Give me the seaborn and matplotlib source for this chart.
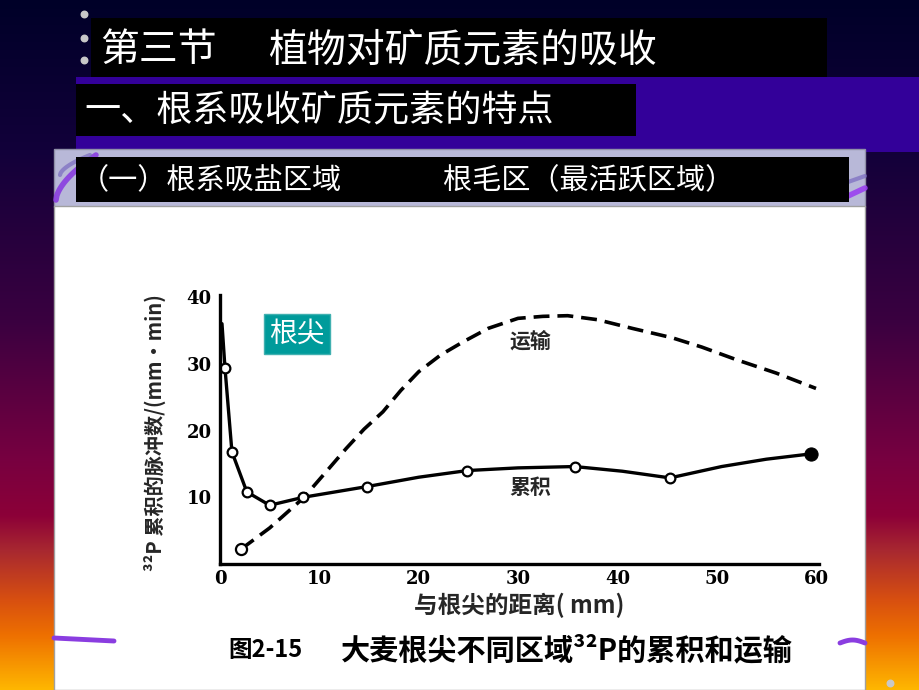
import numpy as np
import pandas as pd
import matplotlib
matplotlib.use("Agg")
import matplotlib.pyplot as plt
import seaborn as sns
from matplotlib.patches import Rectangle

# ---------------- data ----------------
accum_x = [0.2, 0.5, 1.2, 2.7, 5.0, 8.4, 14.8, 20.0, 24.9, 30.0, 35.7, 40.5, 45.3, 50.5, 55.0, 59.5]
accum_y = [36.0, 29.4, 16.8, 10.8, 8.8, 10.0, 11.6, 13.0, 14.0, 14.4, 14.6, 13.9, 12.9, 14.6, 15.7, 16.5]
accum_marked = [1, 2, 3, 4, 5, 6, 8, 10, 12]
trans_x = [2.1, 5.0, 8.4, 10.5, 12.7, 14.5, 16.4, 18.2, 20.0, 22.2, 24.5, 27.0, 30.0,
           32.5, 35.0, 38.0, 41.5, 45.5, 48.5, 52.0, 56.0, 60.0]
trans_y = [2.2, 5.4, 9.9, 13.5, 17.3, 20.2, 22.8, 26.0, 28.8, 31.3, 33.3, 35.3, 36.8,
           37.1, 37.2, 36.6, 35.3, 33.9, 32.5, 30.6, 28.6, 26.3]
x_ticks = [0, 10, 20, 30, 40, 50, 60]
y_ticks = [10, 20, 30, 40]

title_a = "第三节"
title_b = "植物对矿质元素的吸收"
subtitle = "一、根系吸收矿质元素的特点"
line3_a = "（一）根系吸盐区域"
line3_b = "根毛区（最活跃区域）"
tag_text = "根尖"
label_trans = "运输"
label_accum = "累积"
x_label = "与根尖的距离( mm)"
y_label = "³²P 累积的脉冲数/(mm·min)"
caption_a = "图2-15"
caption_b = "大麦根尖不同区域³²P的累积和运输"

accum_df = pd.DataFrame({"x": accum_x, "y": accum_y})
trans_df = pd.DataFrame({"x": trans_x, "y": trans_y})

# ---------------- style ----------------
sns.set_theme(style="white")
plt.rcParams['font.family'] = ['Noto Sans CJK SC', 'DejaVu Sans']
CJK = ['Noto Sans CJK SC', 'DejaVu Sans']

W, H = 920, 690
fig = plt.figure(figsize=(W / 100, H / 100), dpi=100)

# background axes in pixel coordinates
bg = fig.add_axes([0, 0, 1, 1], zorder=0)
bg.set_xlim(0, W)
bg.set_ylim(H, 0)
bg.axis("off")

stops_y = [0, 150, 320, 460, 515, 550, 600, 635, 690]
stops_c = ["#000028", "#12003a", "#3a0040", "#780040", "#8c0038",
           "#a82830", "#d85010", "#ee7000", "#ffb800"]
rgb = np.array([matplotlib.colors.to_rgb(c) for c in stops_c])
yy = np.arange(H)
grad = np.stack([np.interp(yy, stops_y, rgb[:, k]) for k in range(3)], axis=1)
bg.imshow(grad[:, None, :], extent=(0, W, H, 0), aspect="auto", zorder=0)

def rect(x0, y0, x1, y1, fc, ec="none", lw=0, z=1):
    bg.add_patch(Rectangle((x0, y0), x1 - x0, y1 - y0, facecolor=fc,
                           edgecolor=ec, linewidth=lw, zorder=z))

# purple band
rect(76, 77, 920, 152, "#330099", z=1)
# lavender header + white panel
rect(54, 149, 865, 207, "#b8b8d8", ec="#9090a8", lw=1, z=2)
rect(54, 206, 865, 690, "#ffffff", ec="#a0a0a0", lw=1, z=2)

# decorative purple swirls
t = np.linspace(0, 1, 50)
bg.plot(56 + 40 * t, 200 - 45 * t ** 0.6, color="#8a3de0", lw=4, alpha=0.9, zorder=3)
bg.plot(60 + 30 * t, 175 - 20 * t ** 0.6, color="#7a6ac0", lw=3, alpha=0.7, zorder=3)
bg.plot(848 + 17 * t, 196 - 8 * t, color="#9a40f0", lw=4, alpha=0.9, zorder=3)
bg.plot(848 + 17 * t, 182 - 6 * t, color="#7a6ac0", lw=3, alpha=0.7, zorder=3)
bg.plot(54 + 60 * t, 638 + 3 * t, color="#8a3de0", lw=3.5, zorder=3)
bg.plot(840 + 25 * t, 643 - 3 * np.sin(np.pi * t), color="#8a3de0", lw=3.5, zorder=3)

# black boxes
rect(91, 18, 827, 77, "#000000", z=4)
rect(76, 84, 636, 136, "#000000", z=4)
rect(76, 157, 849, 202, "#000000", z=4)

# bullets
bg.scatter([84, 84, 84, 890], [14, 38, 60, 683], s=22, color="#c8c8c8", zorder=5)

# titles
bg.text(100, 50, title_a, color="white", fontsize=28, va="center", ha="left", family=CJK, zorder=6)
bg.text(268, 50, title_b, color="white", fontsize=28, va="center", ha="left", family=CJK, zorder=6)
bg.text(84, 111, subtitle, color="white", fontsize=26, va="center", ha="left", family=CJK, zorder=6)
bg.text(80, 181, line3_a, color="white", fontsize=21, va="center", ha="left", family=CJK, zorder=6)
bg.text(443, 181, line3_b, color="white", fontsize=21, va="center", ha="left", family=CJK, zorder=6)

# caption
bg.text(228, 650, caption_a, color="black", fontsize=17, fontweight="bold",
        va="center", ha="left", family=CJK, zorder=6)
bg.text(341, 650, caption_b, color="black", fontsize=21, fontweight="bold",
        va="center", ha="left", family=CJK, zorder=6)

# ---------------- chart ----------------
x0px, x60px, y0px, y40px = 220, 816, 564, 297
xmax, ymax = 60.3, 40.3
ax_w = (x60px - x0px) / 60 * xmax
ax_h = (y0px - y40px) / 40 * ymax
ax = fig.add_axes([x0px / W, 1 - y0px / H, ax_w / W, ax_h / H], zorder=5)
ax.patch.set_alpha(0)

sns.lineplot(data=trans_df, x="x", y="y", ax=ax, color="black", lw=2.6,
             linestyle=(0, (4.4, 2.2)), sort=False,
             marker="o", markevery=[0], markersize=8, markerfacecolor="white",
             markeredgecolor="black", markeredgewidth=1.6)
sns.lineplot(data=accum_df, x="x", y="y", ax=ax, color="black", lw=2.4,
             sort=False, marker="o", markevery=accum_marked, markersize=7,
             markerfacecolor="white", markeredgecolor="black", markeredgewidth=1.6)
sns.scatterplot(data=accum_df.iloc[[-1]], x="x", y="y", ax=ax, color="black",
                s=90, zorder=6, edgecolor="black")

ax.set_xlim(0, xmax)
ax.set_ylim(0, ymax)
for s in ["top", "right"]:
    ax.spines[s].set_visible(False)
for s in ["left", "bottom"]:
    ax.spines[s].set_linewidth(2.4)
    ax.spines[s].set_color("black")
ax.set_xticks(x_ticks, labels=[str(v) for v in x_ticks], fontfamily="DejaVu Serif",
              fontweight="bold", fontsize=13)
ax.set_yticks(y_ticks, labels=[str(v) for v in y_ticks], fontfamily="DejaVu Serif",
              fontweight="bold", fontsize=13)
ax.tick_params(axis="both", direction="in", length=5, width=2, colors="black",
               pad=4)
ax.tick_params(axis="y", pad=6)
ax.grid(False)

ax.set_xlabel(x_label, fontsize=17, fontweight="bold", family=CJK, labelpad=8)
ax.set_ylabel(y_label, fontsize=14.5, fontweight="bold", family=CJK)
ax.yaxis.set_label_coords((166 - x0px) / ax_w, (y0px - 433) / ax_h)
ax.xaxis.set_label_coords((519 - x0px) / ax_w, (y0px - 593) / ax_h)

ax.text(31.2, 33.4, label_trans, fontsize=15, fontweight="bold", ha="center",
        va="center", family=CJK)
ax.text(31.2, 11.4, label_accum, fontsize=15, fontweight="bold", ha="center",
        va="center", family=CJK)

# teal tag
ax.text(((252 + 342) / 2 - x0px) / ax_w, (y0px - 334) / ax_h, tag_text,
        transform=ax.transAxes, fontsize=20, color="white", ha="center", va="center",
        family=CJK, zorder=7,
        bbox=dict(boxstyle="square,pad=0.18", facecolor="#009b9b", edgecolor="#40b0b0"))

fig.savefig("out.png", dpi=100)
